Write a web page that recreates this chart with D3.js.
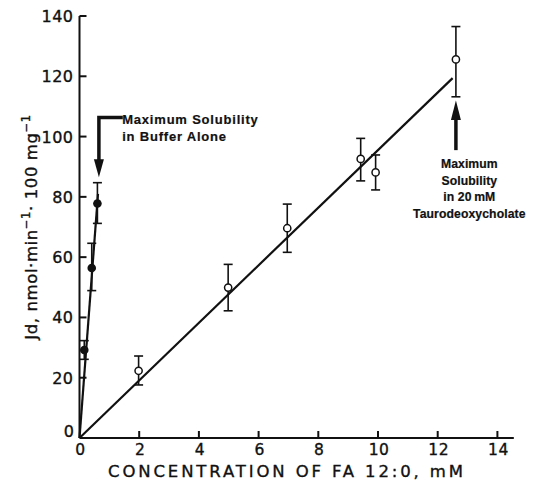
<!DOCTYPE html>
<html>
<head>
<meta charset="utf-8">
<script src="https://cdn.jsdelivr.net/npm/d3@7"></script>
<style>
  body { margin: 0; background: #fff; }
  svg text { font-family: "DejaVu Sans", sans-serif; fill: #111; stroke: #111; stroke-width: 0.35; }
  svg text.note { font-family: "Liberation Sans", Arial, sans-serif; font-weight: bold; stroke-width: 0.2; }
</style>
</head>
<body>
<div id="chart"></div>
<script>
// buffer alone (filled circles)
var bufferX = [0.16, 0.41, 0.6];
var bufferY = [29.2, 56.4, 77.8];
var bufferHi = [32.3, 64.6, 84.7];
var bufferLo = [26.1, 48.9, 71.2];
var bufferFit = [[0, 0], [0.62, 81]];

// 20 mM taurodeoxycholate (open circles)
var tauroX = [1.98, 4.98, 6.96, 9.42, 9.92, 12.61];
var tauroY = [22.3, 49.9, 69.6, 92.6, 88.1, 125.6];
var tauroHi = [27.2, 57.6, 77.6, 99.4, 93.9, 136.5];
var tauroLo = [17.6, 42.2, 61.6, 85.3, 82.3, 113.2];
var tauroFit = [[0, 0], [12.5, 119.4]];

var xTicks = [0, 2, 4, 6, 8, 10, 12, 14];
var yTicks = [0, 20, 40, 60, 80, 100, 120, 140];

var W = 534, H = 482;
var x = d3.scaleLinear().domain([0, 14]).range([79.5, 497.4]);
var y = d3.scaleLinear().domain([0, 140]).range([438, 16]);

var svg = d3.select("#chart").append("svg").attr("width", W).attr("height", H);

// axes
svg.append("line").attr("x1", x(0)).attr("x2", x(14.55)).attr("y1", y(0)).attr("y2", y(0))
  .attr("stroke", "#111").attr("stroke-width", 2);
svg.append("line").attr("x1", x(0)).attr("x2", x(0)).attr("y1", y(0)).attr("y2", y(140))
  .attr("stroke", "#111").attr("stroke-width", 2);

svg.selectAll(".xt").data(xTicks.slice(1)).enter().append("line")
  .attr("x1", d => x(d)).attr("x2", d => x(d)).attr("y1", y(0)).attr("y2", y(0) - 7)
  .attr("stroke", "#111").attr("stroke-width", 2);
svg.selectAll(".yt").data(yTicks.slice(1)).enter().append("line")
  .attr("x1", x(0)).attr("x2", x(0) + 7).attr("y1", d => y(d)).attr("y2", d => y(d))
  .attr("stroke", "#111").attr("stroke-width", 2);

svg.selectAll(".xl").data(xTicks).enter().append("text")
  .attr("x", d => x(d) + 1).attr("y", 455).attr("text-anchor", "middle")
  .attr("font-size", 15.5).attr("letter-spacing", 0.5).text(d => d);
svg.selectAll(".yl").data(yTicks).enter().append("text")
  .attr("x", d => d === 0 ? x(0) - 5 : x(0) - 6).attr("y", d => y(d) + (d === 0 ? -1 : 6))
  .attr("text-anchor", "end").attr("font-size", 16).attr("letter-spacing", 0.5).text(d => d);

svg.append("text").attr("x", 108).attr("y", 476.5)
  .attr("font-size", 16.5).attr("textLength", 355).attr("lengthAdjust", "spacing")
  .text("CONCENTRATION OF FA 12:0, mM");

var yl = svg.append("text").attr("transform", "translate(37,227) rotate(-90)")
  .attr("text-anchor", "middle").attr("font-size", 16.5).attr("letter-spacing", 0.6);
yl.append("tspan").text("Jd, nmol\u00b7min");
yl.append("tspan").attr("dy", -7).attr("font-size", 11.5).text("\u22121");
yl.append("tspan").attr("dy", 7).text("\u00b7 100 mg");
yl.append("tspan").attr("dy", -7).attr("font-size", 11.5).text("\u22121");

// fit lines
var line = d3.line().x(d => x(d[0])).y(d => y(d[1]));
[bufferFit, tauroFit].forEach(function (f) {
  svg.append("path").attr("d", line(f)).attr("fill", "none")
    .attr("stroke", "#111").attr("stroke-width", 2.2);
});

function errorBars(xs, hi, lo) {
  var g = svg.append("g").attr("stroke", "#111").attr("stroke-width", 1.6);
  xs.forEach(function (v, i) {
    g.append("line").attr("x1", x(v)).attr("x2", x(v)).attr("y1", y(hi[i])).attr("y2", y(lo[i]));
    [hi[i], lo[i]].forEach(function (c) {
      g.append("line").attr("x1", x(v) - 4.5).attr("x2", x(v) + 4.5).attr("y1", y(c)).attr("y2", y(c));
    });
  });
}
errorBars(bufferX, bufferHi, bufferLo);
errorBars(tauroX, tauroHi, tauroLo);

svg.selectAll(".bp").data(bufferX).enter().append("circle")
  .attr("cx", d => x(d)).attr("cy", (d, i) => y(bufferY[i])).attr("r", 4.3).attr("fill", "#111");
svg.selectAll(".tp").data(tauroX).enter().append("circle")
  .attr("cx", d => x(d)).attr("cy", (d, i) => y(tauroY[i])).attr("r", 3.6)
  .attr("fill", "#fff").attr("stroke", "#111").attr("stroke-width", 1.5);

// annotation: buffer alone
var ax = 0.65;
svg.append("path")
  .attr("d", d3.line()([[x(1.45), y(106.3)], [x(ax), y(106.3)], [x(ax), y(92)]]))
  .attr("fill", "none").attr("stroke", "#111").attr("stroke-width", 3.5);
svg.append("path")
  .attr("d", d3.line()([[x(ax) - 5, y(92.5)], [x(ax) + 5, y(92.5)], [x(ax), y(86.5)]]) + "Z")
  .attr("fill", "#111");
svg.append("text").attr("class", "note").attr("x", x(1.43)).attr("y", y(104.2)).attr("font-size", 13)
  .attr("letter-spacing", 0.8).text("Maximum Solubility");
svg.append("text").attr("class", "note").attr("x", x(1.43)).attr("y", y(98.5)).attr("font-size", 13)
  .attr("letter-spacing", 0.8).text("in Buffer Alone");

// annotation: taurodeoxycholate
var tx = 12.61;
svg.append("line").attr("x1", x(tx)).attr("x2", x(tx)).attr("y1", y(95.5)).attr("y2", y(106))
  .attr("stroke", "#111").attr("stroke-width", 3.5);
svg.append("path")
  .attr("d", d3.line()([[x(tx) - 5, y(105.5)], [x(tx) + 5, y(105.5)], [x(tx), y(112)]]) + "Z")
  .attr("fill", "#111");
["Maximum", "Solubility", "in 20\u2009mM", "Taurodeoxycholate"].forEach(function (s, i) {
  svg.append("text").attr("class", "note").attr("x", x(13.06)).attr("y", y(89.5) + i * 16.5)
    .attr("text-anchor", "middle").attr("font-size", 12.2).attr("letter-spacing", 0.1).text(s);
});
</script>
</body>
</html>
